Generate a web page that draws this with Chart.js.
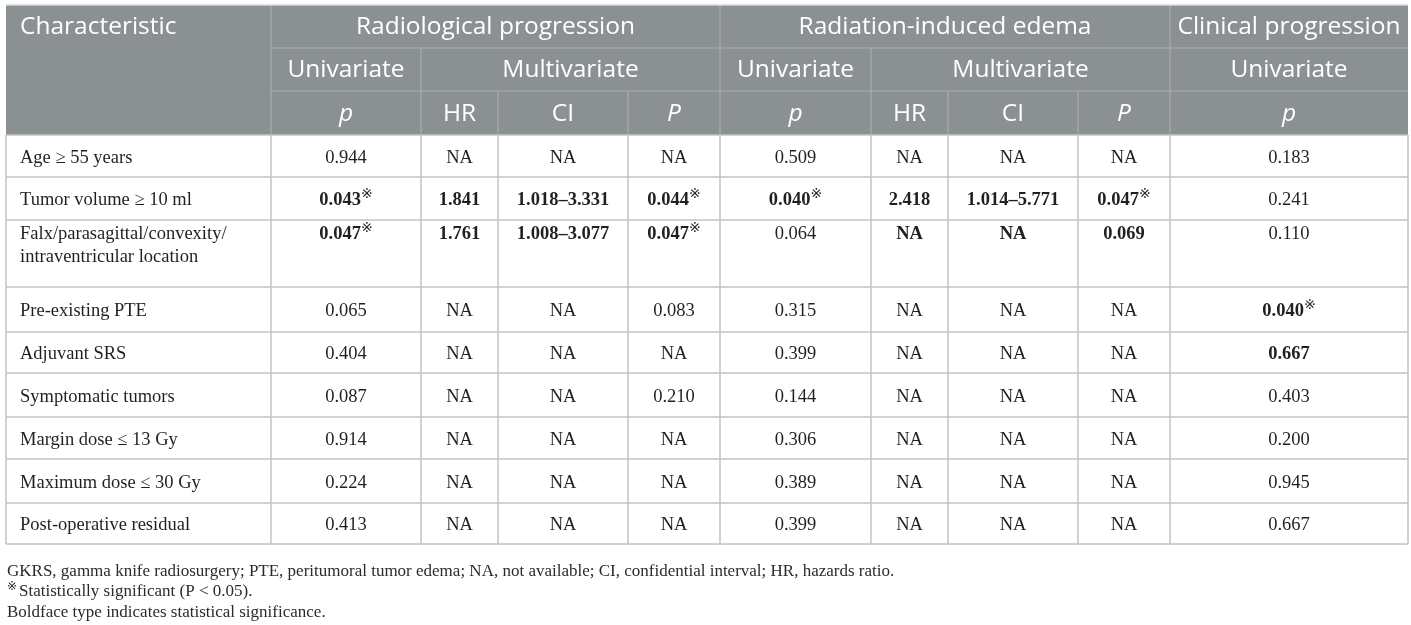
<!DOCTYPE html>
<html>
<head>
<meta charset="utf-8">
<script src="https://cdn.jsdelivr.net/npm/chart.js@4"></script>
<style>
  html, body { margin: 0; padding: 0; background: #fff; }
  canvas { display: block; }
</style>
</head>
<body>
<canvas id="table-chart" width="1411" height="625"></canvas>
<script>
// table data
const characteristics = [
    'Age ≥ 55 years',
    'Tumor volume ≥ 10 ml',
    'Falx/parasagittal/convexity/\nintraventricular location',
    'Pre-existing PTE',
    'Adjuvant SRS',
    'Symptomatic tumors',
    'Margin dose ≤ 13 Gy',
    'Maximum dose ≤ 30 Gy',
    'Post-operative residual'
];
const radUniP = ['0.944', '0.043', '0.047', '0.065', '0.404', '0.087', '0.914', '0.224', '0.413'];
const radHR = ['NA', '1.841', '1.761', 'NA', 'NA', 'NA', 'NA', 'NA', 'NA'];
const radCI = ['NA', '1.018–3.331', '1.008–3.077', 'NA', 'NA', 'NA', 'NA', 'NA', 'NA'];
const radP = ['NA', '0.044', '0.047', '0.083', 'NA', '0.210', 'NA', 'NA', 'NA'];
const edemaUniP = ['0.509', '0.040', '0.064', '0.315', '0.399', '0.144', '0.306', '0.389', '0.399'];
const edemaHR = ['NA', '2.418', 'NA', 'NA', 'NA', 'NA', 'NA', 'NA', 'NA'];
const edemaCI = ['NA', '1.014–5.771', 'NA', 'NA', 'NA', 'NA', 'NA', 'NA', 'NA'];
const edemaP = ['NA', '0.047', '0.069', 'NA', 'NA', 'NA', 'NA', 'NA', 'NA'];
const clinUniP = ['0.183', '0.241', '0.110', '0.040', '0.667', '0.403', '0.200', '0.945', '0.667'];

// [row, column] of cells in bold, and of cells with the significance mark
const boldCells = [[1, 1], [1, 2], [1, 3], [1, 4], [2, 1], [2, 2], [2, 3], [2, 4],
    [1, 5], [1, 6], [1, 7], [1, 8], [2, 6], [2, 7], [2, 8], [3, 9], [4, 9]];
const starCells = [[1, 1], [1, 4], [2, 1], [2, 4], [1, 5], [1, 8], [3, 9]];

const groupHeaders = ['Radiological progression', 'Radiation-induced edema', 'Clinical progression'];
const analysisHeaders = ['Univariate', 'Multivariate', 'Univariate', 'Multivariate', 'Univariate'];
const statHeaders = ['p', 'HR', 'CI', 'P', 'p', 'HR', 'CI', 'P', 'p'];

const footnotes = [
    'GKRS, gamma knife radiosurgery; PTE, peritumoral tumor edema; NA, not available; CI, confidential interval; HR, hazards ratio.',
    'Statistically significant (P < 0.05).',
    'Boldface type indicates statistical significance.'
];

const columns = [characteristics, radUniP, radHR, radCI, radP, edemaUniP, edemaHR, edemaCI, edemaP, clinUniP];

// layout (in page units, mapped through the hidden linear scales)
const colEdges = [6, 271, 421, 498, 628, 720, 871, 948, 1078, 1170, 1408];
const headEdges = [5, 48, 91, 135];
const rowEdges = [135, 177, 220, 287, 332, 373, 417, 459, 503, 544];
const groupSpans = [[1, 5], [5, 9], [9, 10]];
const analysisSpans = [[1, 2], [2, 5], [5, 6], [6, 9], [9, 10]];
const footY = [572, 592, 613];

const headerBg = '#8b9193';
const headerLine = '#a9aeb0';
const gridColor = '#c3c3c3';
const textColor = '#231f20';
const headFont = '"Open Sans", "Noto Sans", sans-serif';
const bodyFont = '"Liberation Serif", "Times New Roman", serif';
const headSize = '24.5px ';
const bodySize = '18.5px ';
const starFont = '14px "DejaVu Sans", "Noto Sans CJK SC", sans-serif';

function has(list, r, c) {
    return list.some(p => p[0] === r && p[1] === c);
}

const tablePlugin = {
    id: 'tablePlugin',
    afterDraw(chart) {
        const ctx = chart.ctx;
        const xs = chart.scales.x;
        const ys = chart.scales.y;
        const X = v => xs.getPixelForValue(v);
        const Y = v => ys.getPixelForValue(v);
        const left = X(colEdges[0]);
        const right = X(colEdges[colEdges.length - 1]);

        ctx.save();

        // header background
        ctx.fillStyle = headerBg;
        ctx.fillRect(left, Y(headEdges[0]), right - left, Y(headEdges[3]) - Y(headEdges[0]));

        function line(x1, y1, x2, y2, color, w) {
            ctx.strokeStyle = color;
            ctx.lineWidth = w;
            ctx.beginPath();
            ctx.moveTo(x1, y1);
            ctx.lineTo(x2, y2);
            ctx.stroke();
        }

        // header inner lines
        line(X(colEdges[1]), Y(headEdges[1]), right, Y(headEdges[1]), headerLine, 1.2);
        line(X(colEdges[1]), Y(headEdges[2]), right, Y(headEdges[2]), headerLine, 1.2);
        [1, 5, 9].forEach(c => line(X(colEdges[c]), Y(headEdges[0]), X(colEdges[c]), Y(headEdges[3]), headerLine, 1.2));
        [2, 6].forEach(c => line(X(colEdges[c]), Y(headEdges[1]), X(colEdges[c]), Y(headEdges[3]), headerLine, 1.2));
        [3, 4, 7, 8].forEach(c => line(X(colEdges[c]), Y(headEdges[2]), X(colEdges[c]), Y(headEdges[3]), headerLine, 1.2));

        // header text
        ctx.fillStyle = '#ffffff';
        ctx.textBaseline = 'middle';
        ctx.font = '400 ' + headSize + headFont;
        ctx.textAlign = 'left';
        const hy = k => (Y(headEdges[k]) + Y(headEdges[k + 1])) / 2 + 1;
        ctx.fillText('Characteristic', X(20), hy(0));
        ctx.textAlign = 'center';
        groupHeaders.forEach((t, i) => {
            const [a, b] = groupSpans[i];
            ctx.fillText(t, (X(colEdges[a]) + X(colEdges[b])) / 2, hy(0));
        });
        analysisHeaders.forEach((t, i) => {
            const [a, b] = analysisSpans[i];
            ctx.fillText(t, (X(colEdges[a]) + X(colEdges[b])) / 2, hy(1));
        });
        statHeaders.forEach((t, i) => {
            ctx.font = (t === 'HR' || t === 'CI' ? '' : 'italic ') + '400 ' + headSize + headFont;
            ctx.fillText(t, (X(colEdges[i + 1]) + X(colEdges[i + 2])) / 2, hy(2));
        });

        // body grid
        rowEdges.forEach(r => line(left, Y(r), right, Y(r), gridColor, 1.5));
        colEdges.forEach(c => line(X(c), Y(rowEdges[0]), X(c), Y(rowEdges[rowEdges.length - 1]), gridColor, 1.5));
        line(left, Y(headEdges[0]), right, Y(headEdges[0]), '#d5d8d5', 1.5);

        // body text
        ctx.fillStyle = textColor;
        columns.forEach((col, c) => {
            col.forEach((val, r) => {
                const top = Y(rowEdges[r]);
                const bottom = Y(rowEdges[r + 1]);
                const lines = val.split('\n');
                const multiRow = characteristics[r].indexOf('\n') >= 0;
                const cy = multiRow ? top + 14 : (top + bottom) / 2 + 2;
                const bold = has(boldCells, r, c);
                const font = (bold ? 'bold ' : '') + bodySize + bodyFont;
                ctx.font = font;
                ctx.textAlign = 'left';
                if (c === 0) {
                    lines.forEach((ln, k) => ctx.fillText(ln, X(20), cy + k * 23));
                    return;
                }
                const star = has(starCells, r, c);
                const w = ctx.measureText(val).width;
                let sw = 0;
                if (star) {
                    ctx.font = starFont;
                    sw = ctx.measureText('※').width;
                    ctx.font = font;
                }
                const cx = (X(colEdges[c]) + X(colEdges[c + 1])) / 2;
                const x0 = cx - (w + sw) / 2;
                ctx.fillText(val, x0, cy);
                if (star) {
                    ctx.font = starFont;
                    ctx.fillText('※', x0 + w, cy - 6);
                }
            });
        });

        // footnotes
        ctx.textAlign = 'left';
        ctx.fillStyle = '#2b2b2b';
        ctx.font = '17px ' + bodyFont;
        ctx.fillText(footnotes[0], X(7), Y(footY[0]));
        ctx.font = '12px "DejaVu Sans", "Noto Sans CJK SC", sans-serif';
        ctx.fillText('※', X(7), Y(footY[1]) - 5);
        const mw = ctx.measureText('※').width;
        ctx.font = '17px ' + bodyFont;
        ctx.fillText(footnotes[1], X(7) + mw + 2, Y(footY[1]));
        ctx.fillText(footnotes[2], X(7), Y(footY[2]));

        ctx.restore();
    }
};

new Chart(document.getElementById('table-chart').getContext('2d'), {
    type: 'scatter',
    data: { datasets: [] },
    options: {
        responsive: false,
        animation: false,
        layout: { padding: 0 },
        plugins: { legend: { display: false }, tooltip: { enabled: false } },
        scales: {
            x: { type: 'linear', min: 0, max: 1411, display: false },
            y: { type: 'linear', min: 0, max: 625, reverse: true, display: false }
        }
    },
    plugins: [tablePlugin]
});
</script>
</body>
</html>
